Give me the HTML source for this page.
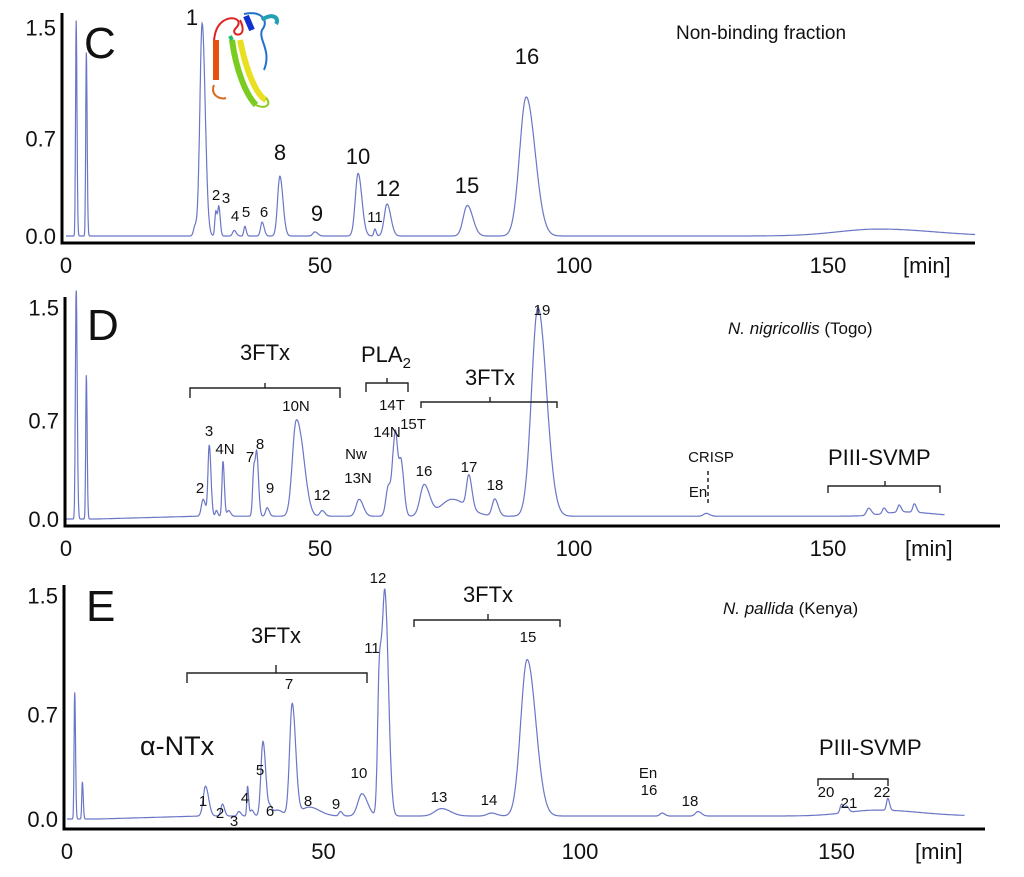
<!DOCTYPE html>
<html><head><meta charset="utf-8"><style>
body{margin:0;background:#fff;}
svg{display:block;font-family:"Liberation Sans",sans-serif;}
.tick{font-size:22px;fill:#111;}
.lab{font-size:15px;fill:#111;}
.big{font-size:22px;fill:#111;}
.trace{fill:none;stroke:#6b76c6;stroke-width:1.2;}
.axis{stroke:#000;stroke-width:3;}
.br{fill:none;stroke:#222;stroke-width:1.4;}
</style></head><body>
<svg id="fig" width="1024" height="877" viewBox="0 0 1024 877">
<g id="pC"></g>
<g id="pD"></g>
<g id="pE"></g>
<g fill="none" stroke-width="2">
<path d="M218,70 C212,50 212,30 222,22 C232,14 244,20 236,28 C228,36 250,40 240,20" stroke="#d22"/>
<path d="M216,80 L216,40" stroke="#e85010" stroke-width="6"/>
<path d="M214,85 C210,95 220,100 226,98" stroke="#d86a20"/>
<path d="M232,40 C236,70 246,95 256,105" stroke="#7acc20" stroke-width="6"/>
<path d="M240,40 C246,70 256,95 266,100" stroke="#e8e020" stroke-width="6"/>
<path d="M232,40 L230,36" stroke="#22bb66" stroke-width="4"/>
<path d="M246,16 L252,30" stroke="#1030d0" stroke-width="6"/>
<path d="M244,14 C260,10 270,20 262,30 C258,40 272,50 264,70" stroke="#2070d0"/>
<path d="M262,20 C272,12 280,18 276,24" stroke="#20a0b0" stroke-width="4"/>
<path d="M256,105 C266,110 272,104 266,98" stroke="#90cc20"/>
</g>
<text x="676" y="39" style="font-size:19px" fill="#111">Non-binding fraction</text>
<text x="728" y="334" style="font-size:17px" fill="#111"><tspan font-style="italic">N. nigricollis</tspan> (Togo)</text>
<text x="723" y="614" style="font-size:17px" fill="#111"><tspan font-style="italic">N. pallida</tspan> (Kenya)</text>
<g>
<text x="265" y="360" class="big" text-anchor="middle">3FTx</text>
<path class="br" d="M190,398 L190,388 L265,388 L265,383 M265,388 L340,388 L340,398"/>
<text x="361" y="362" class="big">PLA<tspan dy="6" style="font-size:15px">2</tspan></text>
<path class="br" d="M366,392 L366,383 L387,383 L387,378 M387,383 L408,383 L408,392"/>
<text x="490" y="385" class="big" text-anchor="middle">3FTx</text>
<path class="br" d="M421,408 L421,402 L490,402 L490,397 M490,402 L557,402 L557,408"/>
<path d="M708,471 L708,503" stroke="#222" stroke-width="1.5" stroke-dasharray="4,3"/>
<text x="828" y="465" class="big">PIII-SVMP</text>
<path class="br" d="M828,493 L828,486 L885,486 L885,481 M885,486 L940,486 L940,493"/>
</g>
<g>
<text x="276" y="643" class="big" text-anchor="middle">3FTx</text>
<path class="br" d="M187,683 L187,673 L276,673 L276,665 M276,673 L367,673 L367,683"/>
<text x="488" y="602" class="big" text-anchor="middle">3FTx</text>
<path class="br" d="M414,627 L414,620 L488,620 L488,614 M488,620 L560,620 L560,627"/>
<text x="140" y="755" style="font-size:27px" fill="#111">α-NTx</text>
<text x="819" y="755" class="big">PIII-SVMP</text>
<path class="br" d="M818,786 L818,779 L853,779 L853,773 M853,779 L888,779 L888,786"/>
</g>
</svg>
<script>
// peaks: retention time (min), height (AU), width sigma (min)
const peaksC_t=[2,4,25.4,26.8,29.5,30.1,33.1,35.2,38.6,42.1,49,57.5,60.8,63.2,79,90.6,160];
const peaksC_h=[1.55,1.32,0.07,1.53,0.18,0.2,0.04,0.07,0.1,0.43,0.03,0.45,0.05,0.23,0.22,1.0,0.05];
const peaksC_w=[0.12,0.12,0.3,0.45,0.2,0.2,0.3,0.2,0.3,0.45,0.4,0.55,0.2,0.55,0.8,1.3,8];
const peaksD_t=[2,4,27,28.2,29.6,30.9,32,37,37.6,39.6,45.3,46.8,50.4,57.7,63.5,64.5,65,66,70.5,76,79.3,84.4,92.9,126,158,161,164,167,165];
const peaksD_h=[1.65,1.02,0.12,0.5,0.04,0.39,0.04,0.35,0.38,0.06,0.66,0.2,0.04,0.12,0.22,0.3,0.38,0.36,0.22,0.12,0.23,0.12,1.48,0.02,0.05,0.04,0.05,0.06,0.03];
const peaksD_w=[0.15,0.12,0.35,0.25,0.2,0.2,0.3,0.25,0.25,0.3,0.75,0.7,0.4,0.6,0.5,0.35,0.35,0.4,0.8,2.2,0.45,0.5,1.25,0.5,0.4,0.3,0.3,0.3,4];
const baseD=0.02;
const peaksE_t=[1.5,3,27,30.3,33.5,35.2,36,38.2,39.6,41,43.9,47.2,53.3,57.5,60.9,62,73,82.7,89.7,116,123,151,152,160,158];
const peaksE_h=[0.85,0.25,0.2,0.08,0.03,0.2,0.04,0.5,0.05,0.04,0.75,0.06,0.03,0.15,0.95,1.45,0.05,0.02,1.05,0.02,0.03,0.06,0.04,0.08,0.04];
const peaksE_w=[0.12,0.12,0.45,0.3,0.3,0.15,0.3,0.4,0.3,0.8,0.5,1.5,0.3,0.8,0.35,0.5,1.3,0.8,1.25,0.4,0.5,0.3,0.3,0.25,6];
const xTicks=[0,50,100,150];
const yTicks=[0.0,0.7,1.5];
const NS="http://www.w3.org/2000/svg";
function mk(parent,tag,attrs,text){const e=document.createElementNS(NS,tag);for(const k in attrs)e.setAttribute(k,attrs[k]);if(text!==undefined)e.textContent=text;parent.appendChild(e);return e;}
function signal(t,T,H,W,base){let s=0;for(let i=0;i<T.length;i++){const d=t-T[i];const w=d>0?W[i]*1.35:W[i];s+=H[i]*Math.exp(-0.5*(d/w)*(d/w));}
 if(base){s+=base*Math.min(1,Math.max(0,(t-6)/20));}return s;}
function panel(id,cfg){
 const g=document.getElementById(id);
 const X=t=>cfg.x0+t*cfg.kx, Y=v=>cfg.y0-v*cfg.ky;
 let pts=[];for(let t=0;t<=cfg.tEnd;t+=0.05){let v=signal(t,cfg.T,cfg.H,cfg.W,cfg.base);v=Math.min(v,cfg.clip);pts.push(X(t).toFixed(1)+","+Y(v).toFixed(1));}
 const pl=mk(g,"polyline",{points:pts.join(" "),class:"trace"});
 
 
 const ya=mk(g,"line",{x1:cfg.ax,y1:cfg.axTop,x2:cfg.ax,y2:cfg.axY+1.5,class:"axis"});
 
 
 const xa=mk(g,"line",{x1:cfg.ax-1.5,y1:cfg.axY,x2:cfg.axEnd,y2:cfg.axY,class:"axis"});
 
 
 xTicks.forEach(v=>{const tx=mk(g,"text",{x:X(v),y:cfg.axY+30,class:"tick","text-anchor":"middle"},String(v));
  
  });
 yTicks.forEach(v=>{const tx=mk(g,"text",{x:cfg.ax-6,y:Y(v)+8,class:"tick","text-anchor":"end"},v.toFixed(1));
  
  });
 const mu=mk(g,"text",{x:cfg.minX,y:cfg.axY+30,class:"tick"},"[min]");
 
 
 const L=mk(g,"text",{x:cfg.ax+22,y:cfg.letterY,style:"font-size:44px;fill:#111"},cfg.letter);
 
 
 (cfg.labels||[]).forEach(l=>{const tx=mk(g,"text",{x:l[0],y:l[1],class:l[3]||"lab","text-anchor":"middle"},l[2]);
  
  });
}
panel("pC",{x0:66,kx:5.08,y0:236,ky:139,T:peaksC_t,H:peaksC_h,W:peaksC_w,base:0,tEnd:179,clip:1.56,ax:62,axTop:13,axY:243,axEnd:975,minX:903,letter:"C",letterY:58,
 labels:[[192,25,"1","big"],[216,200,"2"],[226,203,"3"],[235,221,"4"],[246,217,"5"],[264,217,"6"],[280,160,"8","big"],[317,221,"9","big"],[358,164,"10","big"],[375,222,"11","lab"],[388,196,"12","big"],[467,193,"15","big"],[527,64,"16","big"]]});
panel("pD",{x0:66,kx:5.08,y0:519,ky:141,T:peaksD_t,H:peaksD_h,W:peaksD_w,base:baseD,tEnd:173,clip:1.62,ax:65,axTop:297,axY:526,axEnd:1000,minX:905,letter:"D",letterY:340,
 labels:[[200,493,"2"],[209,436,"3"],[225,454,"4N"],[250,462,"7"],[260,449,"8"],[270,493,"9"],[296,411,"10N"],[322,500,"12"],[358,483,"13N"],[356,459,"Nw"],[387,437,"14N"],[392,410,"14T"],[413,429,"15T"],[424,476,"16"],[469,472,"17"],[495,490,"18"],[542,315,"19"],[698,497,"En"],[711,462,"CRISP"]]});
panel("pE",{x0:67,kx:5.13,y0:819,ky:149,T:peaksE_t,H:peaksE_h,W:peaksE_w,base:0.02,tEnd:175,clip:1.6,ax:64,axTop:585,axY:829,axEnd:985,minX:915,letter:"E",letterY:621,
 labels:[[203,806,"1"],[220,818,"2"],[234,826,"3"],[245,803,"4"],[260,775,"5"],[270,816,"6"],[289,689,"7"],[308,806,"8"],[336,809,"9"],[359,778,"10"],[372,653,"11"],[378,583,"12"],[439,802,"13"],[489,805,"14"],[528,642,"15"],[649,795,"16"],[648,778,"En"],[690,806,"18"],[826,797,"20"],[849,808,"21"],[882,797,"22"]]});
</script>
</body></html>
